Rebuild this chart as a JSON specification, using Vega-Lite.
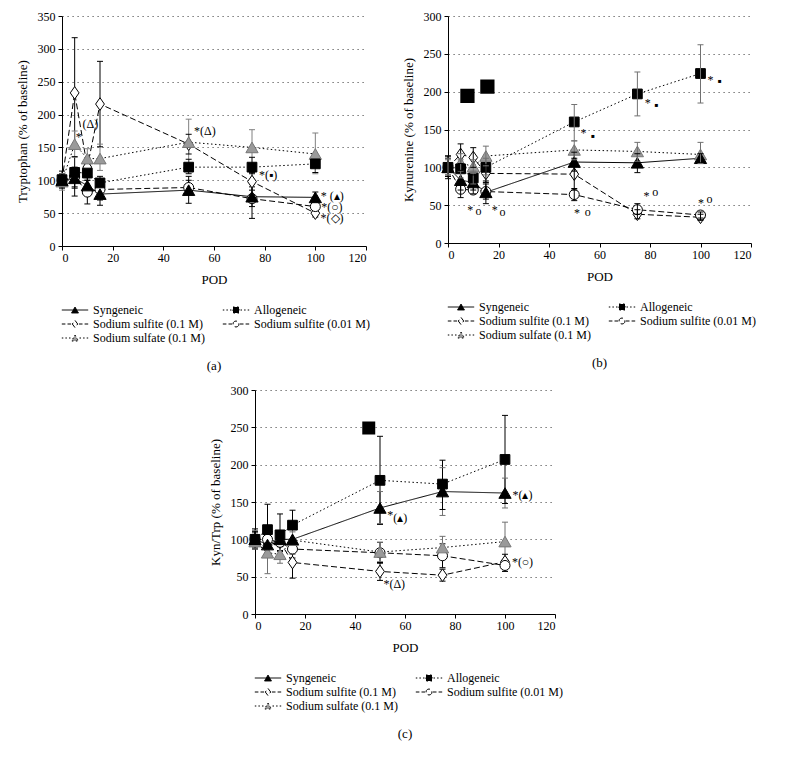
{
"$schema": "https://vega.github.io/schema/vega-lite/v6.json",
"background": "white",
"padding": {"left": 16, "top": 10, "right": 4, "bottom": 4},
"datasets": {
"pts": [
{"p":"a","s":"Syngeneic","x":0,"y":100,"lo":90,"hi":110},{"p":"a","s":"Syngeneic","x":5,"y":103,"lo":88,"hi":118},{"p":"a","s":"Syngeneic","x":10,"y":92,"lo":80,"hi":104},{"p":"a","s":"Syngeneic","x":15,"y":79,"lo":62,"hi":95},{"p":"a","s":"Syngeneic","x":50,"y":85,"lo":65,"hi":106},{"p":"a","s":"Syngeneic","x":75,"y":75,"lo":60,"hi":90},{"p":"a","s":"Syngeneic","x":100,"y":74,"lo":66,"hi":82},
{"p":"a","s":"Allogeneic","x":0,"y":101,"lo":93,"hi":110},{"p":"a","s":"Allogeneic","x":5,"y":112,"lo":76,"hi":136},{"p":"a","s":"Allogeneic","x":10,"y":111,"lo":100,"hi":124},{"p":"a","s":"Allogeneic","x":15,"y":96,"lo":85,"hi":106},{"p":"a","s":"Allogeneic","x":50,"y":120,"lo":110,"hi":132},{"p":"a","s":"Allogeneic","x":75,"y":120,"lo":110,"hi":135},{"p":"a","s":"Allogeneic","x":100,"y":125,"lo":112,"hi":133},
{"p":"a","s":"Sodium sulfite (0.1 M)","x":0,"y":100,"lo":88,"hi":114},{"p":"a","s":"Sodium sulfite (0.1 M)","x":5,"y":233,"lo":150,"hi":317},{"p":"a","s":"Sodium sulfite (0.1 M)","x":10,"y":120,"lo":106,"hi":134},{"p":"a","s":"Sodium sulfite (0.1 M)","x":15,"y":216,"lo":151,"hi":281},{"p":"a","s":"Sodium sulfite (0.1 M)","x":50,"y":155,"lo":140,"hi":170},{"p":"a","s":"Sodium sulfite (0.1 M)","x":75,"y":98,"lo":85,"hi":112},{"p":"a","s":"Sodium sulfite (0.1 M)","x":100,"y":50,"lo":44,"hi":56},
{"p":"a","s":"Sodium sulfite (0.01 M)","x":0,"y":100,"lo":90,"hi":110},{"p":"a","s":"Sodium sulfite (0.01 M)","x":5,"y":105,"lo":90,"hi":120},{"p":"a","s":"Sodium sulfite (0.01 M)","x":10,"y":82,"lo":64,"hi":100},{"p":"a","s":"Sodium sulfite (0.01 M)","x":15,"y":86,"lo":70,"hi":100},{"p":"a","s":"Sodium sulfite (0.01 M)","x":50,"y":89,"lo":78,"hi":100},{"p":"a","s":"Sodium sulfite (0.01 M)","x":75,"y":72,"lo":42,"hi":100},{"p":"a","s":"Sodium sulfite (0.01 M)","x":100,"y":60,"lo":52,"hi":68},
{"p":"a","s":"Sodium sulfate (0.1 M)","x":0,"y":98,"lo":85,"hi":110},{"p":"a","s":"Sodium sulfate (0.1 M)","x":5,"y":155,"lo":135,"hi":175},{"p":"a","s":"Sodium sulfate (0.1 M)","x":10,"y":133,"lo":120,"hi":148},{"p":"a","s":"Sodium sulfate (0.1 M)","x":15,"y":133,"lo":115,"hi":155},{"p":"a","s":"Sodium sulfate (0.1 M)","x":50,"y":158,"lo":125,"hi":193},{"p":"a","s":"Sodium sulfate (0.1 M)","x":75,"y":150,"lo":125,"hi":177},{"p":"a","s":"Sodium sulfate (0.1 M)","x":100,"y":140,"lo":110,"hi":172},
{"p":"b","s":"Syngeneic","x":0,"y":100,"lo":88,"hi":112},{"p":"b","s":"Syngeneic","x":5,"y":83,"lo":70,"hi":96},{"p":"b","s":"Syngeneic","x":10,"y":80,"lo":70,"hi":90},{"p":"b","s":"Syngeneic","x":15,"y":67,"lo":52,"hi":82},{"p":"b","s":"Syngeneic","x":50,"y":107,"lo":95,"hi":120},{"p":"b","s":"Syngeneic","x":75,"y":106,"lo":93,"hi":118},{"p":"b","s":"Syngeneic","x":100,"y":112,"lo":106,"hi":118},
{"p":"b","s":"Allogeneic","x":0,"y":100,"lo":90,"hi":112},{"p":"b","s":"Allogeneic","x":5,"y":98,"lo":86,"hi":110},{"p":"b","s":"Allogeneic","x":10,"y":86,"lo":78,"hi":95},{"p":"b","s":"Allogeneic","x":15,"y":100,"lo":90,"hi":112},{"p":"b","s":"Allogeneic","x":50,"y":160,"lo":135,"hi":183},{"p":"b","s":"Allogeneic","x":75,"y":197,"lo":168,"hi":226},{"p":"b","s":"Allogeneic","x":100,"y":224,"lo":185,"hi":262},
{"p":"b","s":"Sodium sulfite (0.1 M)","x":0,"y":100,"lo":88,"hi":115},{"p":"b","s":"Sodium sulfite (0.1 M)","x":5,"y":117,"lo":105,"hi":131},{"p":"b","s":"Sodium sulfite (0.1 M)","x":10,"y":113,"lo":100,"hi":126},{"p":"b","s":"Sodium sulfite (0.1 M)","x":15,"y":92,"lo":80,"hi":104},{"p":"b","s":"Sodium sulfite (0.1 M)","x":50,"y":91,"lo":70,"hi":112},{"p":"b","s":"Sodium sulfite (0.1 M)","x":75,"y":38,"lo":32,"hi":44},{"p":"b","s":"Sodium sulfite (0.1 M)","x":100,"y":34,"lo":30,"hi":38},
{"p":"b","s":"Sodium sulfite (0.01 M)","x":0,"y":100,"lo":85,"hi":115},{"p":"b","s":"Sodium sulfite (0.01 M)","x":5,"y":71,"lo":60,"hi":82},{"p":"b","s":"Sodium sulfite (0.01 M)","x":10,"y":70,"lo":65,"hi":75},{"p":"b","s":"Sodium sulfite (0.01 M)","x":15,"y":68,"lo":58,"hi":78},{"p":"b","s":"Sodium sulfite (0.01 M)","x":50,"y":64,"lo":56,"hi":72},{"p":"b","s":"Sodium sulfite (0.01 M)","x":75,"y":44,"lo":38,"hi":52},{"p":"b","s":"Sodium sulfite (0.01 M)","x":100,"y":37,"lo":33,"hi":41},
{"p":"b","s":"Sodium sulfate (0.1 M)","x":0,"y":100,"lo":90,"hi":110},{"p":"b","s":"Sodium sulfate (0.1 M)","x":5,"y":106,"lo":95,"hi":118},{"p":"b","s":"Sodium sulfate (0.1 M)","x":10,"y":101,"lo":92,"hi":110},{"p":"b","s":"Sodium sulfate (0.1 M)","x":15,"y":115,"lo":102,"hi":128},{"p":"b","s":"Sodium sulfate (0.1 M)","x":50,"y":123,"lo":110,"hi":135},{"p":"b","s":"Sodium sulfate (0.1 M)","x":75,"y":121,"lo":108,"hi":133},{"p":"b","s":"Sodium sulfate (0.1 M)","x":100,"y":117,"lo":105,"hi":133},
{"p":"c","s":"Syngeneic","x":0,"y":100,"lo":88,"hi":112},{"p":"c","s":"Syngeneic","x":5,"y":93,"lo":80,"hi":106},{"p":"c","s":"Syngeneic","x":10,"y":100,"lo":90,"hi":110},{"p":"c","s":"Syngeneic","x":15,"y":100,"lo":90,"hi":110},{"p":"c","s":"Syngeneic","x":50,"y":142,"lo":121,"hi":164},{"p":"c","s":"Syngeneic","x":75,"y":164,"lo":132,"hi":196},{"p":"c","s":"Syngeneic","x":100,"y":162,"lo":142,"hi":182},
{"p":"c","s":"Allogeneic","x":0,"y":100,"lo":87,"hi":114},{"p":"c","s":"Allogeneic","x":5,"y":113,"lo":78,"hi":147},{"p":"c","s":"Allogeneic","x":10,"y":106,"lo":85,"hi":134},{"p":"c","s":"Allogeneic","x":15,"y":119,"lo":100,"hi":139},{"p":"c","s":"Allogeneic","x":50,"y":179,"lo":120,"hi":238},{"p":"c","s":"Allogeneic","x":75,"y":174,"lo":140,"hi":206},{"p":"c","s":"Allogeneic","x":100,"y":207,"lo":148,"hi":266},
{"p":"c","s":"Sodium sulfite (0.1 M)","x":0,"y":100,"lo":90,"hi":110},{"p":"c","s":"Sodium sulfite (0.1 M)","x":5,"y":92,"lo":80,"hi":104},{"p":"c","s":"Sodium sulfite (0.1 M)","x":10,"y":97,"lo":85,"hi":110},{"p":"c","s":"Sodium sulfite (0.1 M)","x":15,"y":69,"lo":48,"hi":90},{"p":"c","s":"Sodium sulfite (0.1 M)","x":50,"y":57,"lo":45,"hi":69},{"p":"c","s":"Sodium sulfite (0.1 M)","x":75,"y":52,"lo":44,"hi":60},{"p":"c","s":"Sodium sulfite (0.1 M)","x":100,"y":70,"lo":60,"hi":80},
{"p":"c","s":"Sodium sulfite (0.01 M)","x":0,"y":100,"lo":90,"hi":110},{"p":"c","s":"Sodium sulfite (0.01 M)","x":5,"y":100,"lo":88,"hi":112},{"p":"c","s":"Sodium sulfite (0.01 M)","x":10,"y":96,"lo":84,"hi":108},{"p":"c","s":"Sodium sulfite (0.01 M)","x":15,"y":87,"lo":75,"hi":99},{"p":"c","s":"Sodium sulfite (0.01 M)","x":50,"y":82,"lo":68,"hi":96},{"p":"c","s":"Sodium sulfite (0.01 M)","x":75,"y":78,"lo":62,"hi":94},{"p":"c","s":"Sodium sulfite (0.01 M)","x":100,"y":65,"lo":57,"hi":73},
{"p":"c","s":"Sodium sulfate (0.1 M)","x":0,"y":97,"lo":87,"hi":107},{"p":"c","s":"Sodium sulfate (0.1 M)","x":5,"y":82,"lo":54,"hi":110},{"p":"c","s":"Sodium sulfate (0.1 M)","x":10,"y":80,"lo":68,"hi":92},{"p":"c","s":"Sodium sulfate (0.1 M)","x":15,"y":99,"lo":80,"hi":118},{"p":"c","s":"Sodium sulfate (0.1 M)","x":50,"y":83,"lo":70,"hi":96},{"p":"c","s":"Sodium sulfate (0.1 M)","x":75,"y":89,"lo":75,"hi":104},{"p":"c","s":"Sodium sulfate (0.1 M)","x":100,"y":97,"lo":72,"hi":123}
],
"ann": [
{"p":"a","x":6.6,"y":166,"t":"*"},{"p":"a","x":11.2,"y":186,"t":"(Δ)"},{"p":"a","x":56.4,"y":175,"t":"*(Δ)"},{"p":"a","x":81.4,"y":108,"t":"*(▪)"},{"p":"a","x":106.7,"y":76,"t":"* (▴)"},{"p":"a","x":106.5,"y":59,"t":"*(○)"},{"p":"a","x":106.6,"y":42,"t":"*(◇)"},
{"p":"b","x":8.8,"y":44,"t":"*"},{"p":"b","x":12.1,"y":42,"t":"o"},{"p":"b","x":18.5,"y":44,"t":"*"},{"p":"b","x":21.6,"y":41,"t":"o"},{"p":"b","x":51.1,"y":40,"t":"*"},{"p":"b","x":55.3,"y":41,"t":"o"},{"p":"b","x":78.6,"y":62,"t":"*"},{"p":"b","x":82.1,"y":68,"t":"o"},{"p":"b","x":100.2,"y":53,"t":"*"},{"p":"b","x":103.6,"y":58,"t":"o"},{"p":"b","x":53.7,"y":146,"t":"*"},{"p":"b","x":57.3,"y":142,"t":"▪"},{"p":"b","x":79.1,"y":185,"t":"*"},{"p":"b","x":82.4,"y":183,"t":"▪"},{"p":"b","x":104,"y":216,"t":"*"},{"p":"b","x":107.5,"y":214,"t":"▪"},
{"p":"c","x":54.1,"y":133,"t":"*"},{"p":"c","x":58.1,"y":128,"t":"(▴)"},{"p":"c","x":107,"y":160,"t":"*(▴)"},{"p":"c","x":107,"y":69,"t":"*(○)"},{"p":"c","x":55.7,"y":40,"t":"*(Δ)"}
],
"sq": [
{"p":"b","x":7.7,"y":194.5},{"p":"b","x":15.6,"y":206.8},{"p":"c","x":45.5,"y":249}
]
},
"vconcat": [
{"hconcat": [
{
"width": 304, "height": 230,
"title": {"text": "(a)", "orient": "bottom", "anchor": "middle", "offset": 16},
"encoding": {
"x": {"field": "x", "type": "quantitative", "title": "POD", "scale": {"domain": [0, 120], "nice": false}, "axis": {"values": [0, 20, 40, 60, 80, 100, 120]}},
"y": {"field": "y", "type": "quantitative", "title": "Tryptophan (% of baseline)", "scale": {"domain": [0, 350], "nice": false}, "axis": {"values": [0, 50, 100, 150, 200, 250, 300, 350]}}
},
"layer": [
{"data": {"name": "pts"}, "transform": [{"filter": "datum.p === 'a'"}], "mark": {"type": "point", "filled": true},
 "encoding": {"color": {"field": "s", "type": "nominal", "scale": {"domain": ["Syngeneic", "Allogeneic", "Sodium sulfite (0.1 M)", "Sodium sulfite (0.01 M)", "Sodium sulfate (0.1 M)"], "range": ["black", "black", "white", "white", "#9a9a9a"]},
 "legend": {"title": null, "symbolType": {"expr": "datum.value === 'Syngeneic' ? 'M-4.4,0L4.4,0M0,-1L1.15,1L-1.15,1Z' : datum.value === 'Allogeneic' ? 'M-4.4,0L-3.9,0M-3.2,0L-2.7,0M-2,0L-1.5,0M1.5,0L2,0M2.7,0L3.2,0M3.9,0L4.4,0M-1,-1L1,-1L1,1L-1,1Z' : datum.value === 'Sodium sulfite (0.1 M)' ? 'M-4.4,0L-3.2,0M-2.5,0L-1.3,0M1.3,0L2.5,0M3.2,0L4.4,0M0,-1.2L0.9,0L0,1.2L-0.9,0Z' : datum.value === 'Sodium sulfite (0.01 M)' ? 'M-4.4,0L-3.2,0M-2.5,0L-1.3,0M1.3,0L2.5,0M3.2,0L4.4,0M1,0L0.87,0.5L0.5,0.87L0,1L-0.5,0.87L-0.87,0.5L-1,0L-0.87,-0.5L-0.5,-0.87L0,-1L0.5,-0.87L0.87,-0.5Z' : 'M-4.4,0L-3.9,0M-3.2,0L-2.7,0M-2,0L-1.5,0M1.5,0L2,0M2.7,0L3.2,0M3.9,0L4.4,0M0,-1L1.15,1L-1.15,1Z'"}}}}},
{"data": {"name": "pts"}, "transform": [{"filter": "datum.p === 'a'"}], "mark": {"type": "line", "color": "black", "strokeWidth": 1}, "encoding": {"strokeDash": {"field": "s", "type": "nominal", "scale": {"domain": ["Syngeneic", "Allogeneic", "Sodium sulfite (0.1 M)", "Sodium sulfite (0.01 M)", "Sodium sulfate (0.1 M)"], "range": [[1, 0], [1.5, 2.5], [6, 3], [6, 3], [1.5, 2.5]]}, "legend": null}}},
{"data": {"name": "pts"}, "transform": [{"filter": "datum.p === 'a'"}], "mark": {"type": "rule", "strokeWidth": 1}, "encoding": {"y": {"field": "lo", "type": "quantitative"}, "y2": {"field": "hi"}, "stroke": {"condition": {"test": "datum.s === 'Sodium sulfate (0.1 M)'", "value": "#808080"}, "value": "black"}}},
{"data": {"name": "pts"}, "transform": [{"filter": "datum.p === 'a'"}], "mark": {"type": "tick", "orient": "horizontal", "size": 6, "thickness": 1, "opacity": 1}, "encoding": {"y": {"field": "lo", "type": "quantitative"}, "color": {"condition": {"test": "datum.s === 'Sodium sulfate (0.1 M)'", "value": "#808080"}, "value": "black"}}},
{"data": {"name": "pts"}, "transform": [{"filter": "datum.p === 'a'"}], "mark": {"type": "tick", "orient": "horizontal", "size": 6, "thickness": 1, "opacity": 1}, "encoding": {"y": {"field": "hi", "type": "quantitative"}, "color": {"condition": {"test": "datum.s === 'Sodium sulfate (0.1 M)'", "value": "#808080"}, "value": "black"}}},
{"data": {"name": "pts"}, "transform": [{"filter": "datum.p === 'a' && datum.s === 'Sodium sulfite (0.1 M)'"}], "mark": {"type": "point", "shape": "M0,-1.15L0.8,0L0,1.15L-0.8,0Z", "size": 120, "filled": true, "fill": "white", "stroke": "black", "strokeWidth": 1, "opacity": 1}},
{"data": {"name": "pts"}, "transform": [{"filter": "datum.p === 'a' && datum.s === 'Sodium sulfite (0.01 M)'"}], "mark": {"type": "point", "shape": "circle", "size": 100, "filled": true, "fill": "white", "stroke": "black", "strokeWidth": 1, "opacity": 1}},
{"data": {"name": "pts"}, "transform": [{"filter": "datum.p === 'a' && datum.s === 'Sodium sulfate (0.1 M)'"}], "mark": {"type": "point", "shape": "triangle-up", "size": 150, "filled": true, "fill": "#9a9a9a", "stroke": "#777777", "strokeWidth": 1, "opacity": 1}},
{"data": {"name": "pts"}, "transform": [{"filter": "datum.p === 'a' && datum.s === 'Allogeneic'"}], "mark": {"type": "point", "shape": "square", "size": 95, "filled": true, "fill": "black", "stroke": "black", "strokeWidth": 1, "opacity": 1}},
{"data": {"name": "pts"}, "transform": [{"filter": "datum.p === 'a' && datum.s === 'Syngeneic'"}], "mark": {"type": "point", "shape": "triangle-up", "size": 150, "filled": true, "fill": "black", "stroke": "black", "strokeWidth": 1, "opacity": 1}},
{"data": {"name": "ann"}, "transform": [{"filter": "datum.p === 'a'"}], "mark": {"type": "text", "font": "Liberation Serif", "fontSize": 12, "color": "black", "align": "center", "baseline": "middle"}, "encoding": {"text": {"field": "t"}}}
]
},
{
"width": 303, "height": 227,
"title": {"text": "(b)", "orient": "bottom", "anchor": "middle", "offset": 16},
"encoding": {
"x": {"field": "x", "type": "quantitative", "title": "POD", "scale": {"domain": [0, 120], "nice": false}, "axis": {"values": [0, 20, 40, 60, 80, 100, 120]}},
"y": {"field": "y", "type": "quantitative", "title": "Kynurenine (% of baseline)", "scale": {"domain": [0, 300], "nice": false}, "axis": {"values": [0, 50, 100, 150, 200, 250, 300]}}
},
"layer": [
{"data": {"name": "pts"}, "transform": [{"filter": "datum.p === 'b'"}], "mark": {"type": "point", "filled": true},
 "encoding": {"color": {"field": "s", "type": "nominal", "scale": {"domain": ["Syngeneic", "Allogeneic", "Sodium sulfite (0.1 M)", "Sodium sulfite (0.01 M)", "Sodium sulfate (0.1 M)"], "range": ["black", "black", "white", "white", "#9a9a9a"]},
 "legend": {"title": null, "symbolType": {"expr": "datum.value === 'Syngeneic' ? 'M-4.4,0L4.4,0M0,-1L1.15,1L-1.15,1Z' : datum.value === 'Allogeneic' ? 'M-4.4,0L-3.9,0M-3.2,0L-2.7,0M-2,0L-1.5,0M1.5,0L2,0M2.7,0L3.2,0M3.9,0L4.4,0M-1,-1L1,-1L1,1L-1,1Z' : datum.value === 'Sodium sulfite (0.1 M)' ? 'M-4.4,0L-3.2,0M-2.5,0L-1.3,0M1.3,0L2.5,0M3.2,0L4.4,0M0,-1.2L0.9,0L0,1.2L-0.9,0Z' : datum.value === 'Sodium sulfite (0.01 M)' ? 'M-4.4,0L-3.2,0M-2.5,0L-1.3,0M1.3,0L2.5,0M3.2,0L4.4,0M1,0L0.87,0.5L0.5,0.87L0,1L-0.5,0.87L-0.87,0.5L-1,0L-0.87,-0.5L-0.5,-0.87L0,-1L0.5,-0.87L0.87,-0.5Z' : 'M-4.4,0L-3.9,0M-3.2,0L-2.7,0M-2,0L-1.5,0M1.5,0L2,0M2.7,0L3.2,0M3.9,0L4.4,0M0,-1L1.15,1L-1.15,1Z'"}}}}},
{"data": {"name": "pts"}, "transform": [{"filter": "datum.p === 'b'"}], "mark": {"type": "line", "color": "black", "strokeWidth": 1}, "encoding": {"strokeDash": {"field": "s", "type": "nominal", "scale": {"domain": ["Syngeneic", "Allogeneic", "Sodium sulfite (0.1 M)", "Sodium sulfite (0.01 M)", "Sodium sulfate (0.1 M)"], "range": [[1, 0], [1.5, 2.5], [6, 3], [6, 3], [1.5, 2.5]]}, "legend": null}}},
{"data": {"name": "pts"}, "transform": [{"filter": "datum.p === 'b' && datum.s === 'Sodium sulfite (0.1 M)'"}], "mark": {"type": "point", "shape": "M0,-1.15L0.8,0L0,1.15L-0.8,0Z", "size": 120, "filled": true, "fill": "white", "stroke": "black", "strokeWidth": 1, "opacity": 1}},
{"data": {"name": "pts"}, "transform": [{"filter": "datum.p === 'b' && datum.s === 'Sodium sulfite (0.01 M)'"}], "mark": {"type": "point", "shape": "circle", "size": 100, "filled": true, "fill": "white", "stroke": "black", "strokeWidth": 1, "opacity": 1}},
{"data": {"name": "pts"}, "transform": [{"filter": "datum.p === 'b' && datum.s === 'Sodium sulfate (0.1 M)'"}], "mark": {"type": "point", "shape": "triangle-up", "size": 150, "filled": true, "fill": "#9a9a9a", "stroke": "#777777", "strokeWidth": 1, "opacity": 1}},
{"data": {"name": "pts"}, "transform": [{"filter": "datum.p === 'b' && datum.s === 'Allogeneic'"}], "mark": {"type": "point", "shape": "square", "size": 95, "filled": true, "fill": "black", "stroke": "black", "strokeWidth": 1, "opacity": 1}},
{"data": {"name": "pts"}, "transform": [{"filter": "datum.p === 'b' && datum.s === 'Syngeneic'"}], "mark": {"type": "point", "shape": "triangle-up", "size": 150, "filled": true, "fill": "black", "stroke": "black", "strokeWidth": 1, "opacity": 1}},
{"data": {"name": "pts"}, "transform": [{"filter": "datum.p === 'b'"}], "mark": {"type": "rule", "strokeWidth": 1}, "encoding": {"y": {"field": "lo", "type": "quantitative"}, "y2": {"field": "hi"}, "stroke": {"condition": {"test": "datum.s === 'Sodium sulfate (0.1 M)' || datum.s === 'Allogeneic'", "value": "#707070"}, "value": "black"}}},
{"data": {"name": "pts"}, "transform": [{"filter": "datum.p === 'b'"}], "mark": {"type": "tick", "orient": "horizontal", "size": 6, "thickness": 1, "opacity": 1}, "encoding": {"y": {"field": "lo", "type": "quantitative"}, "color": {"condition": {"test": "datum.s === 'Sodium sulfate (0.1 M)' || datum.s === 'Allogeneic'", "value": "#707070"}, "value": "black"}}},
{"data": {"name": "pts"}, "transform": [{"filter": "datum.p === 'b'"}], "mark": {"type": "tick", "orient": "horizontal", "size": 6, "thickness": 1, "opacity": 1}, "encoding": {"y": {"field": "hi", "type": "quantitative"}, "color": {"condition": {"test": "datum.s === 'Sodium sulfate (0.1 M)' || datum.s === 'Allogeneic'", "value": "#707070"}, "value": "black"}}},
{"data": {"name": "sq"}, "transform": [{"filter": "datum.p === 'b'"}], "mark": {"type": "point", "shape": "square", "size": 150, "filled": true, "fill": "black", "stroke": "black", "opacity": 1}},
{"data": {"name": "ann"}, "transform": [{"filter": "datum.p === 'b'"}], "mark": {"type": "text", "font": "Liberation Serif", "fontSize": 12, "color": "black", "align": "center", "baseline": "middle"}, "encoding": {"text": {"field": "t"}}}
]
}
], "spacing": 32, "resolve": {"scale": {"color": "independent", "shape": "independent", "strokeDash": "independent"}}},
{
"width": 300, "height": 224,
"title": {"text": "(c)", "orient": "bottom", "anchor": "middle", "offset": 16},
"encoding": {
"x": {"field": "x", "type": "quantitative", "title": "POD", "scale": {"domain": [0, 120], "nice": false}, "axis": {"values": [0, 20, 40, 60, 80, 100, 120]}},
"y": {"field": "y", "type": "quantitative", "title": "Kyn/Trp (% of baseline)", "scale": {"domain": [0, 300], "nice": false}, "axis": {"values": [0, 50, 100, 150, 200, 250, 300]}}
},
"layer": [
{"data": {"name": "pts"}, "transform": [{"filter": "datum.p === 'c'"}], "mark": {"type": "point", "filled": true},
 "encoding": {"color": {"field": "s", "type": "nominal", "scale": {"domain": ["Syngeneic", "Allogeneic", "Sodium sulfite (0.1 M)", "Sodium sulfite (0.01 M)", "Sodium sulfate (0.1 M)"], "range": ["black", "black", "white", "white", "#9a9a9a"]},
 "legend": {"title": null, "symbolType": {"expr": "datum.value === 'Syngeneic' ? 'M-4.4,0L4.4,0M0,-1L1.15,1L-1.15,1Z' : datum.value === 'Allogeneic' ? 'M-4.4,0L-3.9,0M-3.2,0L-2.7,0M-2,0L-1.5,0M1.5,0L2,0M2.7,0L3.2,0M3.9,0L4.4,0M-1,-1L1,-1L1,1L-1,1Z' : datum.value === 'Sodium sulfite (0.1 M)' ? 'M-4.4,0L-3.2,0M-2.5,0L-1.3,0M1.3,0L2.5,0M3.2,0L4.4,0M0,-1.2L0.9,0L0,1.2L-0.9,0Z' : datum.value === 'Sodium sulfite (0.01 M)' ? 'M-4.4,0L-3.2,0M-2.5,0L-1.3,0M1.3,0L2.5,0M3.2,0L4.4,0M1,0L0.87,0.5L0.5,0.87L0,1L-0.5,0.87L-0.87,0.5L-1,0L-0.87,-0.5L-0.5,-0.87L0,-1L0.5,-0.87L0.87,-0.5Z' : 'M-4.4,0L-3.9,0M-3.2,0L-2.7,0M-2,0L-1.5,0M1.5,0L2,0M2.7,0L3.2,0M3.9,0L4.4,0M0,-1L1.15,1L-1.15,1Z'"}}}}},
{"data": {"name": "pts"}, "transform": [{"filter": "datum.p === 'c'"}], "mark": {"type": "line", "color": "black", "strokeWidth": 1}, "encoding": {"strokeDash": {"field": "s", "type": "nominal", "scale": {"domain": ["Syngeneic", "Allogeneic", "Sodium sulfite (0.1 M)", "Sodium sulfite (0.01 M)", "Sodium sulfate (0.1 M)"], "range": [[1, 0], [1.5, 2.5], [6, 3], [6, 3], [1.5, 2.5]]}, "legend": null}}},
{"data": {"name": "pts"}, "transform": [{"filter": "datum.p === 'c'"}], "mark": {"type": "rule", "strokeWidth": 1}, "encoding": {"y": {"field": "lo", "type": "quantitative"}, "y2": {"field": "hi"}, "stroke": {"condition": {"test": "datum.s === 'Sodium sulfate (0.1 M)' || datum.s === 'Syngeneic'", "value": "#707070"}, "value": "black"}}},
{"data": {"name": "pts"}, "transform": [{"filter": "datum.p === 'c'"}], "mark": {"type": "tick", "orient": "horizontal", "size": 6, "thickness": 1, "opacity": 1}, "encoding": {"y": {"field": "lo", "type": "quantitative"}, "color": {"condition": {"test": "datum.s === 'Sodium sulfate (0.1 M)' || datum.s === 'Syngeneic'", "value": "#707070"}, "value": "black"}}},
{"data": {"name": "pts"}, "transform": [{"filter": "datum.p === 'c'"}], "mark": {"type": "tick", "orient": "horizontal", "size": 6, "thickness": 1, "opacity": 1}, "encoding": {"y": {"field": "hi", "type": "quantitative"}, "color": {"condition": {"test": "datum.s === 'Sodium sulfate (0.1 M)' || datum.s === 'Syngeneic'", "value": "#707070"}, "value": "black"}}},
{"data": {"name": "pts"}, "transform": [{"filter": "datum.p === 'c' && datum.s === 'Sodium sulfite (0.1 M)'"}], "mark": {"type": "point", "shape": "M0,-1.15L0.8,0L0,1.15L-0.8,0Z", "size": 120, "filled": true, "fill": "white", "stroke": "black", "strokeWidth": 1, "opacity": 1}},
{"data": {"name": "pts"}, "transform": [{"filter": "datum.p === 'c' && datum.s === 'Sodium sulfite (0.01 M)'"}], "mark": {"type": "point", "shape": "circle", "size": 100, "filled": true, "fill": "white", "stroke": "black", "strokeWidth": 1, "opacity": 1}},
{"data": {"name": "pts"}, "transform": [{"filter": "datum.p === 'c' && datum.s === 'Sodium sulfate (0.1 M)'"}], "mark": {"type": "point", "shape": "triangle-up", "size": 150, "filled": true, "fill": "#9a9a9a", "stroke": "#777777", "strokeWidth": 1, "opacity": 1}},
{"data": {"name": "pts"}, "transform": [{"filter": "datum.p === 'c' && datum.s === 'Allogeneic'"}], "mark": {"type": "point", "shape": "square", "size": 95, "filled": true, "fill": "black", "stroke": "black", "strokeWidth": 1, "opacity": 1}},
{"data": {"name": "pts"}, "transform": [{"filter": "datum.p === 'c' && datum.s === 'Syngeneic'"}], "mark": {"type": "point", "shape": "triangle-up", "size": 150, "filled": true, "fill": "black", "stroke": "black", "strokeWidth": 1, "opacity": 1}},
{"data": {"name": "sq"}, "transform": [{"filter": "datum.p === 'c'"}], "mark": {"type": "point", "shape": "square", "size": 120, "filled": true, "fill": "black", "stroke": "black", "opacity": 1}},
{"data": {"name": "ann"}, "transform": [{"filter": "datum.p === 'c'"}], "mark": {"type": "text", "font": "Liberation Serif", "fontSize": 12, "color": "black", "align": "center", "baseline": "middle"}, "encoding": {"text": {"field": "t"}}}
]
}
],
"spacing": 11,
"center": true,
"resolve": {"scale": {"color": "independent", "shape": "independent", "strokeDash": "independent"}},
"config": {
"view": {"stroke": null},
"font": "Liberation Serif",
"axis": {"labelFont": "Liberation Serif", "labelFontSize": 12, "titleFont": "Liberation Serif", "titleFontSize": 13, "titleFontWeight": "normal", "labelColor": "black", "titleColor": "black", "domainColor": "black", "tickColor": "black", "tickSize": 4, "labelPadding": 2, "gridColor": "#555555", "gridDash": [1.2, 3.8], "gridWidth": 1},
"axisX": {"grid": false, "titlePadding": 10},
"axisY": {"grid": true, "titlePadding": 8, "labelPadding": 3},
"legend": {"orient": "bottom", "columns": 2, "symbolSize": 36, "symbolOffset": 7, "labelOffset": 12, "labelFont": "Liberation Serif", "labelFontSize": 12, "labelColor": "black", "symbolStrokeWidth": 1, "symbolStrokeColor": "black", "symbolOpacity": 1, "rowPadding": 2, "columnPadding": 15, "offset": 18, "labelLimit": 300},
"title": {"font": "Liberation Serif", "fontSize": 13, "fontWeight": "normal", "color": "black"}
}
}
